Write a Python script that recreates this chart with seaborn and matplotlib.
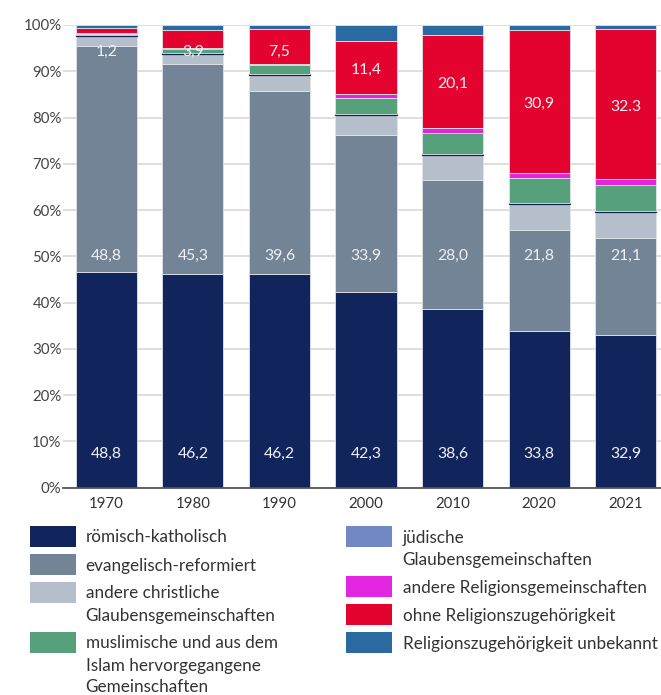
import matplotlib

matplotlib.use("Agg")
import matplotlib.pyplot as plt
from matplotlib.colors import to_hex
from matplotlib.patches import Rectangle
import pandas as pd
import seaborn as sns

YEARS = ["1970", "1980", "1990", "2000", "2010", "2020", "2021"]
CATEGORIES = [
    "römisch-katholisch",
    "evangelisch-reformiert",
    "andere christliche\nGlaubensgemeinschaften",
    "jüdische\nGlaubensgemeinschaften",
    "muslimische und aus dem\nIslam hervorgegangene\nGemeinschaften",
    "andere Religionsgemeinschaften",
    "ohne Religionszugehörigkeit",
    "Religionszugehörigkeit unbekannt",
]
COLORS = ["#11245b", "#738496", "#b5bfcc", "#7088c4", "#56a07c", "#e324e0", "#e4032e", "#2a6aa0"]

katholisch = [46.7, 46.2, 46.2, 42.3, 38.6, 33.8, 32.9]
reformiert = [48.8, 45.3, 39.6, 33.9, 28.0, 21.8, 21.1]
andere_christlich = [2.1, 2.2, 3.4, 4.3, 5.4, 5.7, 5.6]
juedisch = [0.3, 0.3, 0.2, 0.2, 0.2, 0.2, 0.2]
muslimisch = [0.2, 0.8, 1.9, 3.6, 4.5, 5.5, 5.6]
andere_religion = [0.1, 0.2, 0.3, 0.8, 1.1, 1.1, 1.4]
ohne = [1.2, 3.9, 7.5, 11.4, 20.1, 30.9, 32.3]
unbekannt = [0.6, 1.1, 0.9, 3.5, 2.1, 1.0, 0.9]
SERIES = [katholisch, reformiert, andere_christlich, juedisch, muslimisch,
          andere_religion, ohne, unbekannt]

LABELS_KATH = ["48,8", "46,2", "46,2", "42,3", "38,6", "33,8", "32,9"]
LABELS_REF = ["48,8", "45,3", "39,6", "33,9", "28,0", "21,8", "21,1"]
LABELS_OHNE = ["1,2", "3,9", "7,5", "11,4", "20,1", "30,9", "32.3"]

W, H = 661, 695

sns.set_theme(style="white")
plt.rcParams["font.family"] = ["Lato", "DejaVu Sans"]

rows = []
for cat, vals in zip(CATEGORIES, SERIES):
    for i, v in enumerate(vals):
        rows.append({"pos": i, "category": cat, "value": v})
df = pd.DataFrame(rows)

fig = plt.figure(figsize=(W / 100, H / 100), dpi=100)
ax = fig.add_axes([63 / W, (H - 487.7) / H, 606 / W, 462.7 / H])

palette = dict(zip(CATEGORIES, COLORS))
sns.histplot(
    data=df, x="pos", hue="category", weights="value", multiple="stack",
    discrete=True, shrink=0.705, hue_order=CATEGORIES[::-1], palette=palette,
    alpha=1, edgecolor="#dfe3ea", linewidth=0.6, legend=False, ax=ax,
)
jew = to_hex(COLORS[3])
for p in ax.patches:
    if to_hex(p.get_facecolor()) == jew:
        p.set_edgecolor("#0d2050")
        p.set_linewidth(0.9)

ax.set_xlim(-0.5, 6.5)
ax.set_ylim(0, 100)
ax.set_yticks(range(0, 101, 10))
ax.set_yticklabels([f"{t}%" for t in range(0, 101, 10)])
ax.set_xticks(range(len(YEARS)))
ax.set_xticklabels(YEARS)
ax.set_xlabel("")
ax.set_ylabel("")
ax.yaxis.grid(True, color="#dcdcdc", lw=1.3)
ax.set_axisbelow(True)
for s in ["left", "right", "top"]:
    ax.spines[s].set_visible(False)
ax.spines["bottom"].set_color("#555555")
ax.spines["bottom"].set_linewidth(1.3)
ax.tick_params(axis="y", length=0, pad=1, labelsize=10.8, labelcolor="#444444")
ax.tick_params(axis="x", length=0, pad=6.5, labelsize=10.8, labelcolor="#333333")

lab = dict(ha="center", va="center", color="#eef0f5", fontsize=11.3)
for i in range(len(YEARS)):
    ax.text(i, 7.4, LABELS_KATH[i], **lab)
    ax.text(i, 50, LABELS_REF[i], **lab)
    base = sum(s[i] for s in SERIES[:6])
    y = min(94.2, base + ohne[i] / 2 - 0.6)
    ax.text(i, y, LABELS_OHNE[i], **lab)

# legend, drawn by hand in pixel positions
def px(x, y):
    return x / W, 1 - y / H

columns = [(29.5, 85.6, [0, 1, 2, 4]), (345.7, 402.6, [3, 5, 6, 7])]
for patch_x, text_x, idx in columns:
    top = 526
    for k in idx:
        x0, y0 = px(patch_x, top + 20.5)
        fig.add_artist(Rectangle((x0, y0), 46 / W, 20.5 / H, transform=fig.transFigure,
                                 facecolor=COLORS[k], edgecolor="none"))
        lines = CATEGORIES[k].split("\n")
        for j, line in enumerate(lines):
            fig.text(*px(text_x, top + 11.5 + 22 * j), line, ha="left", va="center",
                     fontsize=12.3, color="#333333")
        top += 28 + 22 * (len(lines) - 1)

fig.savefig("out.png", dpi=100)
